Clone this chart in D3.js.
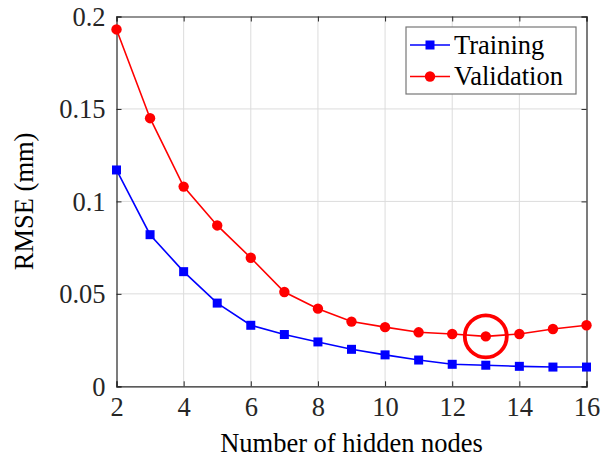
<!DOCTYPE html>
<html>
<head>
<meta charset="utf-8">
<script src="https://cdn.jsdelivr.net/npm/d3@7"></script>
<style>
  body { margin: 0; background: #fff; }
  svg { display: block; }
  text { font-family: "Liberation Serif", "Times New Roman", serif; }
</style>
</head>
<body>
<svg id="chart" width="602" height="460"></svg>
<script>
// --- data ---
const nodes = [2, 3, 4, 5, 6, 7, 8, 9, 10, 11, 12, 13, 14, 15, 16];
const training = [0.117, 0.082, 0.062, 0.045, 0.033, 0.028, 0.024, 0.020, 0.017, 0.0142, 0.0119, 0.0114, 0.0108, 0.0104, 0.0104];
const validation = [0.193, 0.145, 0.108, 0.087, 0.0695, 0.051, 0.042, 0.035, 0.032, 0.0292, 0.0283, 0.027, 0.0283, 0.031, 0.033];
const xTicks = [2, 4, 6, 8, 10, 12, 14, 16];
const yTicks = [0, 0.05, 0.1, 0.15, 0.2];
const yTickLabels = ["0", "0.05", "0.1", "0.15", "0.2"];
const seriesNames = ["Training", "Validation"];
const highlightNode = 13; // circled minimum of validation

const svg = d3.select("#chart");
const margin = {top: 16.5, right: 15.5, bottom: 73.7, left: 116.5};
const W = 602, H = 460;
const iw = W - margin.left - margin.right;
const ih = H - margin.top - margin.bottom;
const axisCol = "#262626";
const fontSize = 26.5;

const g = svg.append("g").attr("transform", `translate(${margin.left},${margin.top})`);

const x = d3.scaleLinear().domain([2, 16]).range([0, iw]);
const y = d3.scaleLinear().domain([0, 0.2]).range([ih, 0]);

// grid
g.append("g").selectAll("line").data(xTicks.slice(1, -1)).enter().append("line")
  .attr("x1", d => x(d)).attr("x2", d => x(d)).attr("y1", 0).attr("y2", ih)
  .attr("stroke", "#dcdcdc").attr("stroke-width", 1);
g.append("g").selectAll("line").data(yTicks.slice(1, -1)).enter().append("line")
  .attr("y1", d => y(d)).attr("y2", d => y(d)).attr("x1", 0).attr("x2", iw)
  .attr("stroke", "#dcdcdc").attr("stroke-width", 1);

// axes (ticks inward, box on)
const tickLen = 5;
const xb = g.append("g").attr("transform", `translate(0,${ih})`)
  .call(d3.axisBottom(x).tickValues(xTicks).tickSize(-tickLen).tickPadding(tickLen + 10).tickFormat(d3.format("d")));
const xt = g.append("g")
  .call(d3.axisTop(x).tickValues(xTicks).tickSize(-tickLen).tickFormat(""));
const yl = g.append("g")
  .call(d3.axisLeft(y).tickValues(yTicks).tickSize(-tickLen).tickPadding(tickLen + 6).tickFormat((d, i) => yTickLabels[i]));
const yr = g.append("g").attr("transform", `translate(${iw},0)`)
  .call(d3.axisRight(y).tickValues(yTicks).tickSize(-tickLen).tickFormat(""));

[xb, xt, yl, yr].forEach(a => {
  a.select(".domain").attr("stroke", axisCol).attr("stroke-width", 1.2);
  a.selectAll(".tick line").attr("stroke", axisCol).attr("stroke-width", 1);
  a.selectAll(".tick text").attr("fill", axisCol).style("font-size", fontSize + "px")
    .style("font-family", '"Liberation Serif", serif');
});
xb.selectAll(".tick text").attr("dy", "0.71em").attr("y", 11);
yl.selectAll(".tick text").attr("dy", "0.34em");

// lines
const line = d3.line().x((d, i) => x(nodes[i])).y(d => y(d));
g.append("path").datum(training).attr("d", line)
  .attr("fill", "none").attr("stroke", "#0000ff").attr("stroke-width", 1.6);
g.append("path").datum(validation).attr("d", line)
  .attr("fill", "none").attr("stroke", "#ff0000").attr("stroke-width", 1.6);

const sq = 9;
g.append("g").selectAll("rect").data(training).enter().append("rect")
  .attr("x", (d, i) => x(nodes[i]) - sq / 2).attr("y", d => y(d) - sq / 2)
  .attr("width", sq).attr("height", sq).attr("fill", "#0000ff");
g.append("g").selectAll("circle").data(validation).enter().append("circle")
  .attr("cx", (d, i) => x(nodes[i])).attr("cy", d => y(d)).attr("r", 5.2).attr("fill", "#ff0000");

// highlight circle
const hi = nodes.indexOf(highlightNode);
g.append("circle")
  .attr("cx", x(highlightNode)).attr("cy", y(validation[hi])).attr("r", 21)
  .attr("fill", "none").attr("stroke", "#ff0000").attr("stroke-width", 3.8);

// axis labels
svg.append("text")
  .attr("x", margin.left + iw / 2).attr("y", 451.5)
  .attr("text-anchor", "middle").attr("fill", "#000").style("font-size", fontSize + "px")
  .text("Number of hidden nodes");
svg.append("text")
  .attr("transform", `translate(33,${margin.top + ih / 2}) rotate(-90)`)
  .attr("text-anchor", "middle").attr("fill", "#000").style("font-size", fontSize + "px")
  .text("RMSE (mm)");

// legend
const lg = svg.append("g").attr("transform", "translate(406,27)");
lg.append("rect").attr("width", 170).attr("height", 67)
  .attr("fill", "#fff").attr("stroke", "#777").attr("stroke-width", 1.2);
const colors = ["#0000ff", "#ff0000"];
seriesNames.forEach((name, i) => {
  const cy = 18 + i * 31.5;
  const row = lg.append("g").attr("transform", `translate(0,${cy})`);
  row.append("line").attr("x1", 4).attr("x2", 44).attr("stroke", colors[i]).attr("stroke-width", 1.6);
  if (i === 0) {
    row.append("rect").attr("x", 24 - sq / 2).attr("y", -sq / 2).attr("width", sq).attr("height", sq).attr("fill", colors[i]);
  } else {
    row.append("circle").attr("cx", 24).attr("r", 5.2).attr("fill", colors[i]);
  }
  row.append("text").attr("x", 48).attr("dy", "0.33em")
    .attr("fill", "#000").style("font-size", fontSize + "px").text(name);
});
</script>
</body>
</html>
